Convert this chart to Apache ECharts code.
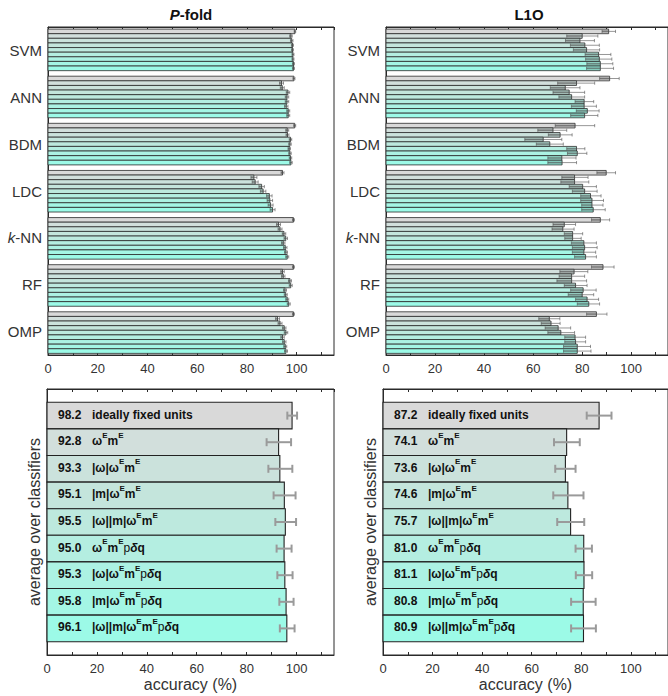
<!DOCTYPE html>
<html><head><meta charset="utf-8">
<script src="https://cdn.jsdelivr.net/npm/echarts@6/dist/echarts.min.js"></script>
<style>html,body{margin:0;padding:0;background:#fff}#c{width:668px;height:696px}</style>
</head><body><div id="c"></div>
<script>
// ---------- data ----------
const classifiers = ['SVM', 'ANN', 'BDM', 'LDC', 'k-NN', 'RF', 'OMP'];
const variantLabels = [
  'ideally fixed units',
  'ω{s|E}m{s|E}',
  '|ω|ω{s|E}m{s|E}',
  '|m|ω{s|E}m{s|E}',
  '|ω||m|ω{s|E}m{s|E}',
  'ω{s|E}m{s|E}{p|p}{d|δ}q',
  '|ω|ω{s|E}m{s|E}{p|p}{d|δ}q',
  '|m|ω{s|E}m{s|E}{p|p}{d|δ}q',
  '|ω||m|ω{s|E}m{s|E}{p|p}{d|δ}q'
];
const xTicks = [0, 20, 40, 60, 80, 100];

// P-fold, per classifier (9 variants each)
const pfoldSVM = [99.3, 97.7, 98.0, 98.3, 98.3, 98.5, 98.5, 98.7, 98.7];
const pfoldANN = [98.9, 93.9, 94.2, 96.5, 96.1, 96.1, 95.8, 96.6, 96.6];
const pfoldBDM = [99.2, 96.2, 96.3, 97.5, 97.3, 97.0, 97.3, 97.5, 97.7];
const pfoldLDC = [94.3, 82.8, 83.3, 85.9, 86.5, 89.0, 89.2, 89.5, 90.3];
const pfoldKNN = [98.7, 92.7, 93.3, 94.9, 95.6, 94.6, 95.4, 95.7, 96.2];
const pfoldRF  = [98.7, 94.3, 94.6, 97.3, 97.6, 95.3, 95.6, 96.2, 96.8];
const pfoldOMP = [98.7, 92.3, 93.3, 95.0, 95.7, 94.3, 95.0, 95.4, 95.7];
// P-fold error half-widths
const pfoldErrSVM = [0.3, 0.5, 0.5, 0.4, 0.4, 0.4, 0.4, 0.4, 0.4];
const pfoldErrANN = [0.4, 0.8, 0.8, 0.7, 0.7, 0.7, 0.7, 0.6, 0.6];
const pfoldErrBDM = [0.4, 0.6, 0.6, 0.5, 0.5, 0.5, 0.5, 0.5, 0.5];
const pfoldErrLDC = [0.6, 1.2, 1.2, 1.1, 1.1, 1.1, 1.1, 1.0, 1.0];
const pfoldErrKNN = [0.4, 0.8, 0.8, 0.7, 0.7, 0.7, 0.7, 0.6, 0.6];
const pfoldErrRF  = [0.4, 0.7, 0.7, 0.6, 0.6, 0.6, 0.6, 0.6, 0.6];
const pfoldErrOMP = [0.4, 0.8, 0.8, 0.7, 0.7, 0.7, 0.7, 0.6, 0.6];

// L1O, per classifier: value, error low, error high
const l1oSVM = [90.8, 80.0, 79.1, 81.1, 81.8, 86.7, 87.0, 87.4, 87.4];
const l1oLowSVM = [88.1, 73.7, 73.2, 75.2, 76.4, 81.2, 81.4, 81.9, 81.8];
const l1oHighSVM = [93.6, 86.4, 85.0, 87.0, 87.1, 91.7, 92.1, 92.5, 92.8];
const l1oANN = [91.2, 77.7, 73.1, 74.7, 75.7, 80.8, 80.8, 82.1, 81.0];
const l1oLowANN = [87.1, 70.0, 67.0, 68.1, 70.5, 77.1, 75.6, 77.6, 75.3];
const l1oHighANN = [95.1, 85.1, 79.1, 81.0, 81.0, 84.7, 85.8, 86.9, 86.4];
const l1oBDM = [77.1, 68.1, 71.0, 64.1, 66.8, 77.7, 78.0, 71.7, 71.8];
const l1oLowBDM = [69.0, 61.9, 66.2, 56.6, 61.3, 73.7, 74.0, 66.0, 66.0];
const l1oHighBDM = [85.1, 73.7, 75.9, 71.7, 72.3, 81.1, 81.9, 77.5, 77.7];
const l1oLDC = [89.8, 76.9, 76.9, 80.2, 81.0, 83.4, 84.0, 84.0, 84.5];
const l1oLowLDC = [86.0, 71.7, 71.3, 74.7, 76.0, 79.4, 79.4, 79.8, 79.8];
const l1oHighLDC = [93.6, 82.4, 82.7, 85.8, 86.1, 87.7, 88.7, 88.5, 89.4];
const l1oKNN = [87.4, 72.7, 72.1, 76.1, 76.1, 80.7, 81.0, 80.7, 81.4];
const l1oLowKNN = [83.8, 68.1, 67.7, 72.7, 72.9, 75.6, 76.0, 76.0, 76.9];
const l1oHighKNN = [91.2, 77.3, 76.7, 80.2, 79.6, 85.8, 86.1, 85.5, 85.8];
const l1oRF = [88.5, 76.7, 75.7, 75.7, 77.3, 80.4, 80.0, 82.0, 82.7];
const l1oLowRF = [83.8, 70.9, 70.6, 69.7, 72.7, 75.3, 74.3, 77.3, 78.0];
const l1oHighRF = [93.0, 82.3, 81.0, 81.8, 82.0, 85.7, 84.7, 86.7, 87.1];
const l1oOMP = [85.8, 66.6, 67.3, 70.2, 71.3, 77.1, 77.3, 78.0, 78.0];
const l1oLowOMP = [81.8, 62.3, 63.3, 64.9, 66.0, 72.9, 72.9, 72.4, 72.4];
const l1oHighOMP = [90.1, 70.9, 71.0, 75.3, 76.9, 81.4, 81.4, 83.4, 83.6];

// averages over classifiers
const avgP = [98.2, 92.8, 93.3, 95.1, 95.5, 95.0, 95.3, 95.8, 96.1];
const avgPLow = [96.3, 88.0, 88.7, 90.8, 91.5, 92.0, 92.3, 93.1, 93.3];
const avgPHigh = [100.2, 97.8, 98.3, 99.6, 99.8, 98.0, 98.4, 98.8, 99.2];
const avgL = [87.2, 74.1, 73.6, 74.6, 75.7, 81.0, 81.1, 80.8, 80.9];
const avgLLow = [82.2, 69.0, 69.5, 68.7, 70.3, 77.7, 77.8, 75.9, 75.9];
const avgLHigh = [92.2, 79.4, 77.7, 80.9, 81.2, 84.3, 84.4, 85.8, 85.9];

// ---------- styling / layout ----------
const FONT = '"Liberation Sans", Arial, Helvetica, sans-serif';
const colors = ['#d9d9d9', '#d2dfdc', '#cbe2dc', '#c4e5dc', '#bde9de', '#b4eee1', '#acf2e3', '#a4f6e5', '#9cfae7'];
const GP = 10.2, Y0 = 0.45, YMAX = 71;

const pfoldVals = [pfoldSVM, pfoldANN, pfoldBDM, pfoldLDC, pfoldKNN, pfoldRF, pfoldOMP];
const pfoldErrs = [pfoldErrSVM, pfoldErrANN, pfoldErrBDM, pfoldErrLDC, pfoldErrKNN, pfoldErrRF, pfoldErrOMP];
const l1oVals = [l1oSVM, l1oANN, l1oBDM, l1oLDC, l1oKNN, l1oRF, l1oOMP];
const l1oLows = [l1oLowSVM, l1oLowANN, l1oLowBDM, l1oLowLDC, l1oLowKNN, l1oLowRF, l1oLowOMP];
const l1oHighs = [l1oHighSVM, l1oHighANN, l1oHighBDM, l1oHighLDC, l1oHighKNN, l1oHighRF, l1oHighOMP];

function topData(vals, lows, highs) {
  const out = [];
  for (let g = 0; g < vals.length; g++)
    for (let r = 0; r < vals[g].length; r++)
      out.push([vals[g][r], g, r, lows[g][r], highs[g][r]]);
  return out;
}
const pfoldData = topData(pfoldVals,
  pfoldVals.map((a, g) => a.map((v, r) => v - pfoldErrs[g][r])),
  pfoldVals.map((a, g) => a.map((v, r) => v + pfoldErrs[g][r])));
const l1oData = topData(l1oVals, l1oLows, l1oHighs);
const avgPData = avgP.map((v, i) => [v, i, avgPLow[i], avgPHigh[i]]);
const avgLData = avgL.map((v, i) => [v, i, avgLLow[i], avgLHigh[i]]);

function topPos(g, r) { return Y0 + g * GP + r + 0.5; }

function topBar(params, api) {
  const v = api.value(0), g = api.value(1), r = api.value(2);
  const pos = topPos(g, r);
  const p0 = api.coord([0, pos]), p1 = api.coord([v, pos]);
  const h = Math.abs(api.size([0, 1])[1]);
  return { type: 'rect', shape: { x: p0[0], y: p0[1] - h / 2, width: p1[0] - p0[0], height: h },
    style: { fill: colors[r], stroke: '#2b2b2b', lineWidth: 0.8 } };
}
function topErr(params, api) {
  const v = api.value(0), g = api.value(1), r = api.value(2), lo = api.value(3), hi = api.value(4);
  const pos = topPos(g, r);
  const h = Math.abs(api.size([0, 1])[1]);
  const pl = api.coord([lo, pos]), ph = api.coord([hi, pos]), pv = api.coord([Math.min(v, hi), pos]);
  const y = pl[1];
  return { type: 'group', children: [
    { type: 'rect', shape: { x: pl[0], y: y - h * 0.3, width: Math.max(0, pv[0] - pl[0]), height: h * 0.6 },
      style: { fill: 'rgba(60,60,60,0.33)' } },
    { type: 'line', shape: { x1: pl[0], y1: y, x2: ph[0], y2: y }, style: { stroke: 'rgba(80,80,80,0.75)', lineWidth: 0.8 } },
    { type: 'line', shape: { x1: pl[0], y1: y - h * 0.35, x2: pl[0], y2: y + h * 0.35 }, style: { stroke: 'rgba(80,80,80,0.75)', lineWidth: 0.8 } },
    { type: 'line', shape: { x1: ph[0], y1: y - h * 0.35, x2: ph[0], y2: y + h * 0.35 }, style: { stroke: 'rgba(80,80,80,0.75)', lineWidth: 0.8 } }
  ] };
}
const labelRich = {
  v: { width: 34, fontWeight: 'bold', fontSize: 12, fontFamily: FONT, fill: '#111' },
  s: { fontWeight: 'bold', fontSize: 8, fontFamily: FONT, verticalAlign: 'top', lineHeight: 9, fill: '#111' },
  p: { fontWeight: 'normal', fontSize: 12, fontFamily: FONT, fill: '#111' },
  d: { fontWeight: 'bold', fontStyle: 'italic', fontSize: 12, fontFamily: FONT, fill: '#111' }
};
function avgBar(params, api) {
  const v = api.value(0), i = api.value(1);
  const p0 = api.coord([0, i]), p1 = api.coord([v, i]);
  const h = Math.abs(api.size([0, 1])[1]);
  return { type: 'group', children: [
    { type: 'rect', shape: { x: p0[0], y: p0[1] - h / 2, width: p1[0] - p0[0], height: h },
      style: { fill: colors[i], stroke: '#222', lineWidth: 1.1 } },
    { type: 'text', x: p0[0] + 11, y: p0[1] - 1, style: {
      text: '{v|' + v.toFixed(1) + '}' + variantLabels[i], rich: labelRich,
      fontWeight: 'bold', fontSize: 12, fontFamily: FONT, fill: '#111', lineHeight: 20,
      align: 'left', verticalAlign: 'middle' } }
  ] };
}
function avgErr(params, api) {
  const i = api.value(1), lo = api.value(2), hi = api.value(3);
  const pl = api.coord([lo, i]), ph = api.coord([hi, i]);
  const y = pl[1], c = 4;
  const st = { stroke: '#9a9a9a', lineWidth: 2 };
  return { type: 'group', children: [
    { type: 'line', shape: { x1: pl[0], y1: y, x2: ph[0], y2: y }, style: st },
    { type: 'line', shape: { x1: pl[0], y1: y - c, x2: pl[0], y2: y + c }, style: st },
    { type: 'line', shape: { x1: ph[0], y1: y - c, x2: ph[0], y2: y + c }, style: st }
  ] };
}

const grids = [
  { left: 48, top: 27, width: 286, height: 328 },
  { left: 386, top: 27, width: 286, height: 328 },
  { left: 47, top: 389, width: 287, height: 266 },
  { left: 383, top: 389, width: 289, height: 266 }
].map(g => Object.assign(g, { show: true, borderColor: '#2a2a2a', borderWidth: 1, backgroundColor: 'transparent', containLabel: false }));

function xAx(gi, pos, withName) {
  return {
    type: 'value', gridIndex: gi, position: pos, min: 0, max: 115, interval: 10,
    axisLine: { show: true, onZero: false, lineStyle: { color: '#2a2a2a', width: 1 } },
    axisTick: { show: true, inside: true, length: 3, lineStyle: { color: '#2a2a2a' } },
    splitLine: { show: false },
    axisLabel: { show: pos === 'bottom', margin: 7, fontSize: 13, color: '#333', fontFamily: FONT,
      showMaxLabel: false,
      formatter: v => (xTicks.indexOf(v) >= 0 ? String(v) : '') },
    name: withName ? 'accuracy (%)' : '', nameLocation: 'middle', nameGap: 21,
    nameTextStyle: { fontSize: 16, color: '#333', fontFamily: FONT }
  };
}
const xAxes = [xAx(0, 'bottom'), xAx(0, 'top'), xAx(1, 'bottom'), xAx(1, 'top'),
               xAx(2, 'bottom', true), xAx(2, 'top'), xAx(3, 'bottom', true), xAx(3, 'top')];

function yVal(gi, min, max, withName) {
  return {
    type: 'value', gridIndex: gi, min: min, max: max, inverse: true, position: 'left',
    axisLine: { show: true, onZero: false, lineStyle: { color: '#2a2a2a' } }, axisTick: { show: false },
    axisLabel: { show: false }, splitLine: { show: false },
    name: withName ? 'average over classifiers' : '', nameLocation: 'middle', nameGap: 5, nameRotate: 90,
    nameTextStyle: { fontSize: 16, color: '#333', fontFamily: FONT }
  };
}
function yCat(gi) {
  return {
    type: 'category', gridIndex: gi, data: classifiers, inverse: true, position: 'left',
    axisLine: { show: false, onZero: false }, axisTick: { show: false }, splitLine: { show: false },
    axisLabel: { margin: 6, fontSize: 15, color: '#333', fontFamily: FONT, interval: 0,
      formatter: v => (v === 'k-NN' ? '{i|k}-NN' : v),
      rich: { i: { fontStyle: 'italic', fontSize: 15, color: '#333', fontFamily: FONT } } }
  };
}
const yAxes = [yVal(0, 0, YMAX), yCat(0), yVal(1, 0, YMAX), yCat(1), yVal(2, -1, 9, true), yVal(3, -1, 9, true)];

const chart = echarts.init(document.getElementById('c'), null, { renderer: 'svg' });
chart.setOption({
  animation: false,
  backgroundColor: '#fff',
  textStyle: { fontFamily: FONT },
  grid: grids,
  xAxis: xAxes,
  yAxis: yAxes,
  graphic: [
    { type: 'text', x: 191, y: 14, style: { text: '{i|P}-fold', align: 'center', verticalAlign: 'middle',
      fontSize: 15, fontWeight: 'bold', fontFamily: FONT, fill: '#111',
      rich: { i: { fontStyle: 'italic', fontWeight: 'bold', fontSize: 15, fontFamily: FONT, fill: '#111' } } } },
    { type: 'text', x: 529, y: 14, style: { text: 'L1O', align: 'center', verticalAlign: 'middle',
      fontSize: 15, fontWeight: 'bold', fontFamily: FONT, fill: '#111' } }
  ],
  series: [
    { type: 'custom', xAxisIndex: 0, yAxisIndex: 0, data: pfoldData, renderItem: topBar, clip: false },
    { type: 'custom', xAxisIndex: 0, yAxisIndex: 0, data: pfoldData, renderItem: topErr, clip: false },
    { type: 'custom', xAxisIndex: 2, yAxisIndex: 2, data: l1oData, renderItem: topBar, clip: false },
    { type: 'custom', xAxisIndex: 2, yAxisIndex: 2, data: l1oData, renderItem: topErr, clip: false },
    { type: 'custom', xAxisIndex: 4, yAxisIndex: 4, data: avgPData, renderItem: avgBar, clip: false },
    { type: 'custom', xAxisIndex: 4, yAxisIndex: 4, data: avgPData, renderItem: avgErr, clip: false },
    { type: 'custom', xAxisIndex: 6, yAxisIndex: 5, data: avgLData, renderItem: avgBar, clip: false },
    { type: 'custom', xAxisIndex: 6, yAxisIndex: 5, data: avgLData, renderItem: avgErr, clip: false }
  ]
});
</script></body></html>
